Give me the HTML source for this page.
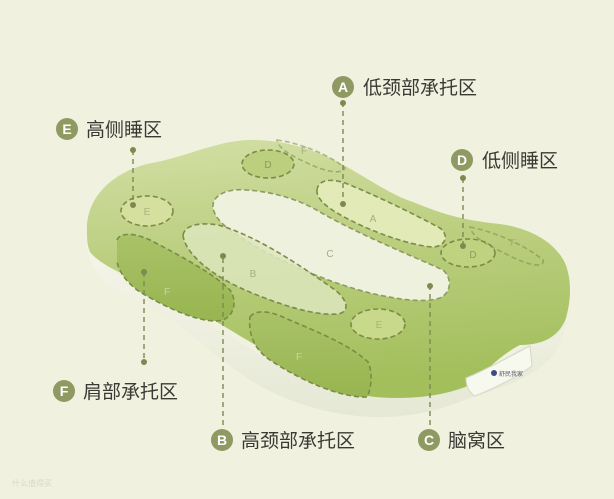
<!DOCTYPE html>
<html><head><meta charset="utf-8">
<style>
html,body{margin:0;padding:0;background:#f0f1df;}
svg{display:block}
text{font-family:"Liberation Sans","Noto Sans CJK SC",sans-serif;}
</style></head><body>
<svg width="614" height="499" viewBox="0 0 614 499" xmlns="http://www.w3.org/2000/svg">
<defs>
<linearGradient id="g" x1="0" y1="0" x2="0.15" y2="1">
<stop offset="0" stop-color="#d3dfa6"/>
<stop offset="0.45" stop-color="#bccf80"/>
<stop offset="1" stop-color="#a2bf5c"/>
</linearGradient>
<linearGradient id="f" x1="0" y1="0" x2="0" y2="1">
<stop offset="0" stop-color="#a9c268"/>
<stop offset="1" stop-color="#97b550"/>
</linearGradient>
<linearGradient id="w" x1="0" y1="0" x2="0" y2="1">
<stop offset="0" stop-color="#f5f6ea"/>
<stop offset="1" stop-color="#e6e8d6"/>
</linearGradient>
</defs>
<rect width="614" height="499" fill="#f0f1df"/>
<!-- base -->
<path d="M87,235 C86,262 95,285 140,302 C180,320 205,350 250,380 C290,405 340,418 385,417 C420,416 445,408 470,398 C510,385 545,373 560,345 C568,325 570,305 570,293 L560,300 C540,340 500,370 440,385 C400,396 360,398 330,388 C280,370 220,330 170,300 C120,280 90,260 87,235Z" fill="url(#w)"/>
<!-- top surface -->
<path d="M87,232 C85,200 110,170 157,162 C190,155 215,142 247,140 C280,139 315,148 347,167 C375,183 392,195 413,202 C440,213 460,220 500,224 C530,228 555,242 565,263 C572,280 571,300 566,318 C560,335 545,345 520,345 C500,355 485,372 470,385 C445,396 410,400 375,397 C330,392 290,365 247,340 C210,318 185,302 160,290 C130,278 100,265 90,252 C87,245 87,238 87,232Z" fill="url(#g)"/>
<!-- handle -->
<path d="M466,378 C490,368 512,355 530,346 L532,366 C515,378 495,388 475,396 C468,392 466,385 466,378Z" fill="#f7f8ee" stroke="#d5d8c4" stroke-width="1"/>
<circle cx="494" cy="373" r="3" fill="#3a4a8a"/>
<text x="499" y="376" font-size="6" fill="#556">舒民我家</text>
<!-- zones -->
<g fill="none" stroke="#7a8c46" stroke-width="1.6" stroke-dasharray="5,3">
<path d="M117,240 C120,232 135,233 150,240 C185,258 215,275 230,290 C237,300 235,315 223,320 C205,325 170,310 140,292 C125,282 117,268 117,260" fill="url(#f)"/>
<path d="M250,317 C255,310 268,310 285,318 C320,333 350,345 368,362 C374,375 370,392 367,397 C340,398 300,380 270,360 C255,350 248,335 250,317Z" fill="url(#f)"/>
<path d="M213,207 C212,195 228,188 247,190 C275,192 300,200 320,212 C360,235 410,255 443,270 C452,278 452,292 440,298 C425,303 400,300 370,293 C330,283 280,262 245,240 C225,228 214,218 213,207Z" fill="#eff1df" stroke="#8c9b62"/>
<path d="M183,235 C185,225 200,222 218,225 C255,235 300,265 335,290 C348,300 350,312 338,314 C315,316 280,305 245,290 C215,277 185,255 183,235Z" fill="#dde6bd" fill-opacity="0.85"/>
<path d="M317,190 C318,180 330,178 345,183 C375,195 410,212 440,228 C450,236 445,247 432,247 C410,245 375,233 350,220 C330,210 316,200 317,190Z" fill="#e2eab8"/>
<ellipse cx="268" cy="164" rx="26" ry="14" fill="#bccf7f"/>
<ellipse cx="147" cy="211" rx="26" ry="15" fill="#d5e09f"/>
<ellipse cx="468" cy="253" rx="27" ry="14" fill="#bfd280"/>
<ellipse cx="378" cy="324" rx="27" ry="15" fill="#c8d98b"/>
<path d="M277,140 C300,143 330,155 345,168 C342,175 325,172 305,162 C290,155 278,148 277,140Z" opacity="0.55"/>
<path d="M470,227 C495,232 525,245 543,260 C545,268 530,266 510,256 C490,246 472,238 470,227Z" opacity="0.55"/>
</g>
<g font-size="10" text-anchor="middle">
<text x="268" y="168" fill="#8a9a60">D</text>
<text x="147" y="215" fill="#a9b47c">E</text>
<text x="473" y="258" fill="#8a9a60">D</text>
<text x="379" y="328" fill="#a9b47c">E</text>
<text x="373" y="222" fill="#a5ae85">A</text>
<text x="330" y="257" fill="#a5ae85">C</text>
<text x="253" y="277" fill="#a5ae85">B</text>
<text x="167" y="295" fill="#c8d6a0">F</text>
<text x="299" y="360" fill="#c8d6a0">F</text>
<text x="304" y="154" fill="#a5ae85">F</text>
<text x="513" y="246" fill="#a5ae85">F</text>
</g>
<!-- leaders -->
<g stroke="#7c8a50" stroke-width="1.4" stroke-dasharray="5,4" fill="none">
<line x1="343" y1="102" x2="343" y2="203"/>
<line x1="133" y1="150" x2="133" y2="205"/>
<line x1="463" y1="178" x2="463" y2="245"/>
<line x1="144" y1="272" x2="144" y2="362"/>
<line x1="223" y1="258" x2="223" y2="425"/>
<line x1="430" y1="285" x2="430" y2="425"/>
</g>
<g fill="#7c8a50">
<circle cx="343" cy="103" r="3"/><circle cx="343" cy="204" r="3"/>
<circle cx="133" cy="150" r="3"/><circle cx="133" cy="205" r="3"/>
<circle cx="463" cy="178" r="3"/><circle cx="463" cy="246" r="3"/>
<circle cx="144" cy="272" r="3"/><circle cx="144" cy="362" r="3"/>
<circle cx="223" cy="256" r="3"/><circle cx="430" cy="286" r="3"/>
</g>
<!-- labels -->
<g font-size="14" fill="#fff" text-anchor="middle" font-weight="bold">
<circle cx="343" cy="87" r="11" fill="#8f9a63"/><text x="343" y="92">A</text>
<circle cx="67" cy="129" r="11" fill="#8f9a63"/><text x="67" y="134">E</text>
<circle cx="462" cy="160" r="11" fill="#8f9a63"/><text x="462" y="165">D</text>
<circle cx="64" cy="391" r="11" fill="#8f9a63"/><text x="64" y="396">F</text>
<circle cx="222" cy="440" r="11" fill="#8f9a63"/><text x="222" y="445">B</text>
<circle cx="429" cy="440" r="11" fill="#8f9a63"/><text x="429" y="445">C</text>
</g>
<g font-size="19" fill="#3a3a34">
<text x="363" y="94">低颈部承托区</text>
<text x="86" y="136">高侧睡区</text>
<text x="482" y="167">低侧睡区</text>
<text x="83" y="398">肩部承托区</text>
<text x="241" y="447">高颈部承托区</text>
<text x="448" y="447">脑窝区</text>
</g>
<text x="12" y="486" font-size="8" fill="#d8dac8">什么值得买</text>
</svg>
</body></html>
